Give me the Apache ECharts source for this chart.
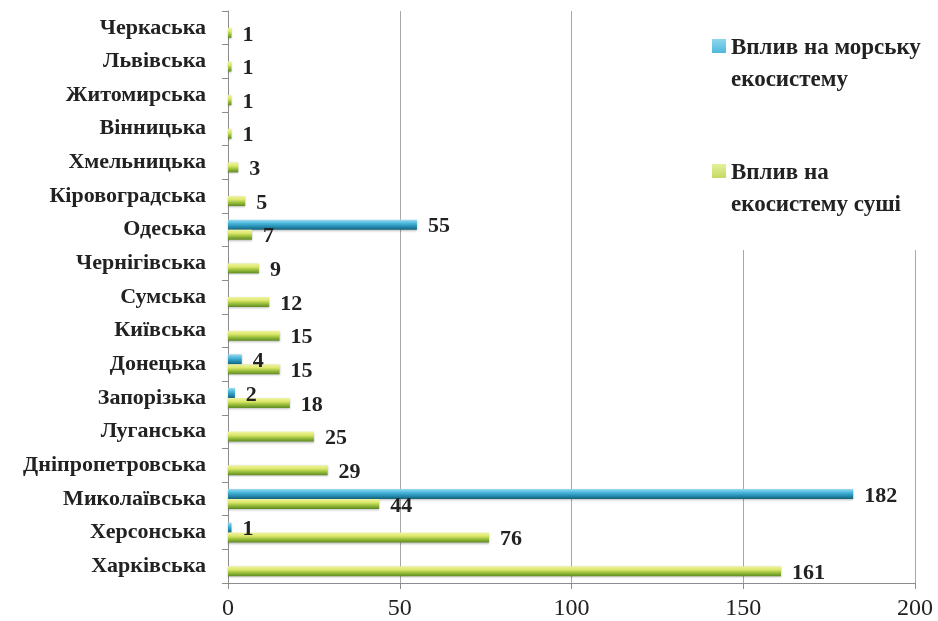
<!DOCTYPE html>
<html>
<head>
<meta charset="utf-8">
<script src="https://cdn.jsdelivr.net/npm/echarts@6/dist/echarts.min.js"></script>
<style>
html,body{margin:0;padding:0;background:#fff;}
#c{width:938px;height:621px;}
</style>
</head>
<body>
<div id="c"></div>
<script>
var categories = ['Харківська','Херсонська','Миколаївська','Дніпропетровська','Луганська','Запорізька','Донецька','Київська','Сумська','Чернігівська','Одеська','Кіровоградська','Хмельницька','Вінницька','Житомирська','Львівська','Черкаська'];
var landValues = [161,76,44,29,25,18,15,15,12,9,7,5,3,1,1,1,1];
var marineValues = [null,1,182,null,null,2,4,null,null,null,55,null,null,null,null,null,null];
var seriesNames = ['Вплив на морську\nекосистему', 'Вплив на\nекосистему суші'];
var xTicks = [0, 50, 100, 150, 200];

var FONT = '"Liberation Serif", "Times New Roman", serif';
var chart = echarts.init(document.getElementById('c'));

function grad(c0, c1, c2, c3) {
  return new echarts.graphic.LinearGradient(0, 0, 0, 1, [
    {offset: 0, color: c0},
    {offset: 0.35, color: c1},
    {offset: 0.65, color: c2},
    {offset: 1, color: c3}
  ]);
}

var iconPath = 'path://M0,0 L14,0 L14,14 L0,14 Z M0,50 L0.01,50';

chart.setOption({
  animation: false,
  backgroundColor: '#fff',
  grid: {left: 228, right: 23, top: 11, bottom: 38},
  legend: {
    orient: 'vertical',
    left: 700,
    top: 0,
    padding: [32, 5, 29, 12],
    backgroundColor: '#fff',
    itemWidth: 14,
    itemHeight: 50,
    itemGap: 61,
    data: [
      {name: seriesNames[0], icon: iconPath, itemStyle: {color: grad('#8fd6ee', '#3fb2d8', '#2a93b8', '#15627d')}},
      {name: seriesNames[1], icon: iconPath, itemStyle: {color: grad('#e6f09a', '#b9d555', '#8fb43a', '#5e8a22')}}
    ],
    textStyle: {fontFamily: FONT, fontSize: 23, fontWeight: 'bold', color: '#222', lineHeight: 32}
  },
  xAxis: {
    type: 'value',
    min: xTicks[0],
    max: xTicks[xTicks.length - 1],
    interval: 50,
    axisLine: {show: true, lineStyle: {color: '#8c8c8c'}},
    axisTick: {show: true, length: 6, lineStyle: {color: '#8c8c8c'}},
    axisLabel: {fontFamily: FONT, fontSize: 24, color: '#222', margin: 14},
    splitLine: {show: true, lineStyle: {color: '#a8a8a8', width: 1}}
  },
  yAxis: {
    type: 'category',
    data: categories,
    axisLine: {show: true, lineStyle: {color: '#8c8c8c'}},
    axisTick: {show: true, length: 6, inside: false, lineStyle: {color: '#8c8c8c'}},
    axisLabel: {fontFamily: FONT, fontSize: 22, fontWeight: 'bold', color: '#222', margin: 22},
    splitLine: {show: false}
  },
  series: [
    {
      name: seriesNames[0],
      type: 'bar',
      data: marineValues,
      barWidth: 10,
      barGap: '0%',
      itemStyle: {color: grad('#9edcf0', '#4bb8dc', '#2a93b8', '#15627d'), shadowColor: 'rgba(0,0,0,0.25)', shadowBlur: 2, shadowOffsetY: 1},
      label: {show: true, position: 'right', distance: 11, fontFamily: FONT, fontSize: 22, fontWeight: 'bold', color: '#222', offset: [0, 2]}
    },
    {
      name: seriesNames[1],
      type: 'bar',
      data: landValues,
      barWidth: 10,
      barGap: '0%',
      itemStyle: {color: grad('#eef3a6', '#dde86a', '#9cc03e', '#5e8a22'), shadowColor: 'rgba(0,0,0,0.25)', shadowBlur: 2, shadowOffsetY: 1},
      label: {show: true, position: 'right', distance: 11, fontFamily: FONT, fontSize: 22, fontWeight: 'bold', color: '#222', offset: [0, 2]}
    }
  ]
});
</script>
</body>
</html>
